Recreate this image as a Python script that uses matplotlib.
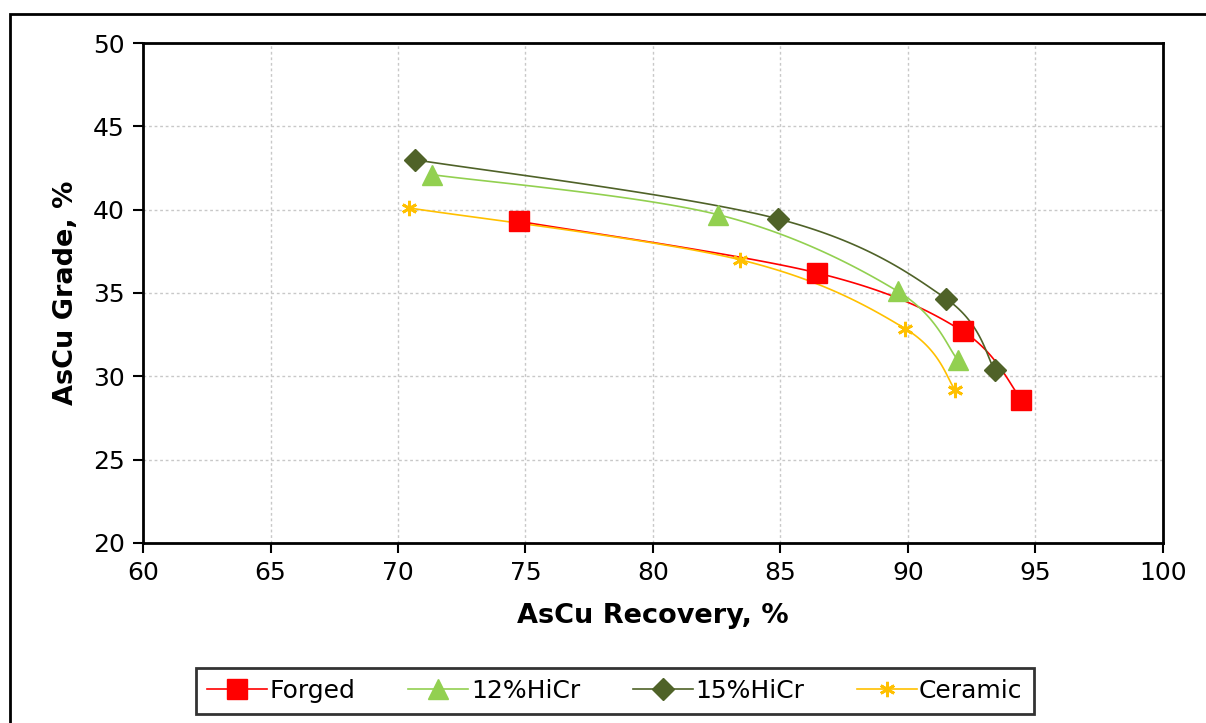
import numpy as np
import matplotlib
matplotlib.use("Agg")
import matplotlib.pyplot as plt
from matplotlib.lines import Line2D
from matplotlib.patches import Rectangle

# AsCu recovery (%) and grade (%) for each media type
forged_rec = [74.75, 86.45, 92.15, 94.45]
forged_grade = [39.3, 36.2, 32.7, 28.6]

hicr12_rec = [71.35, 82.55, 89.6, 91.95]
hicr12_grade = [42.1, 39.7, 35.1, 31.0]

hicr15_rec = [70.65, 84.9, 91.5, 93.4]
hicr15_grade = [43.0, 39.45, 34.65, 30.4]

ceramic_rec = [70.45, 83.4, 89.9, 91.85]
ceramic_grade = [40.1, 37.0, 32.85, 29.2]

series_names = ["Forged", "12%HiCr", "15%HiCr", "Ceramic"]
colors = ["#FF0000", "#92D050", "#4F6228", "#FFC000"]

plt.rcParams["font.family"] = ["DejaVu Sans"]

fig = plt.figure(figsize=(12.06, 7.23), dpi=100)
ax = fig.add_axes([0.1186, 0.249, 0.8457, 0.6915])

ax.set_xlim(60, 100)
ax.set_ylim(20, 50)
ax.set_xticks(np.arange(60, 101, 5))
ax.set_yticks(np.arange(20, 51, 5))
ax.grid(True, color="#C8C8C8", linestyle=(0, (2, 2)), linewidth=1.0)
ax.set_axisbelow(True)
for sp in ax.spines.values():
    sp.set_linewidth(2.0)
    sp.set_color("black")
ax.tick_params(direction="out", length=7, width=1.5, labelsize=18, pad=6)

ax.set_xlabel("AsCu Recovery, %", fontsize=19.5, fontweight="bold", labelpad=13)
ax.set_ylabel("AsCu Grade, %", fontsize=19.5, fontweight="bold", labelpad=10)


def smooth_curve(xs, ys, n=40):
    """Bezier smoothing through the points, computed in display space."""
    pts = ax.transData.transform(np.column_stack([xs, ys]))
    ext = np.vstack([pts[0], pts, pts[-1]])
    out = []
    for i in range(1, len(ext) - 2):
        p0, p3 = ext[i], ext[i + 1]
        c1 = p0 + (ext[i + 1] - ext[i - 1]) / 6.0
        c2 = p3 - (ext[i + 2] - ext[i]) / 6.0
        t = np.linspace(0, 1, n)[:, None]
        seg = ((1 - t) ** 3) * p0 + 3 * ((1 - t) ** 2) * t * c1 \
            + 3 * (1 - t) * t ** 2 * c2 + t ** 3 * p3
        out.append(seg if i == 1 else seg[1:])
    curve = np.vstack(out)
    return ax.transData.inverted().transform(curve)


series = [
    (forged_rec, forged_grade, dict(marker="s", markersize=14)),
    (hicr12_rec, hicr12_grade, dict(marker="^", markersize=15)),
    (hicr15_rec, hicr15_grade, dict(marker="D", markersize=11)),
    (ceramic_rec, ceramic_grade, dict(marker=(6, 2, 0), markersize=11,
                                      markeredgewidth=2)),
]

handles = []
for (xs, ys, mk), name, col in zip(series, series_names, colors):
    curve = smooth_curve(xs, ys)
    ax.plot(curve[:, 0], curve[:, 1], color=col, linewidth=1.2, zorder=3)
    ax.plot(xs, ys, linestyle="none", color=col, markerfacecolor=col,
            markeredgecolor=col, zorder=4, **mk)
    handles.append(Line2D([], [], color=col, linewidth=1.2,
                          markerfacecolor=col, markeredgecolor=col, **mk))

leg = fig.legend(handles, series_names, loc="center",
                 bbox_to_anchor=(0.51, 0.044), bbox_transform=fig.transFigure,
                 ncol=4, fontsize=18, frameon=True, fancybox=False,
                 edgecolor="black", handlelength=2.4, handletextpad=0.1,
                 columnspacing=2.1, borderpad=0.45, borderaxespad=0.0)
leg.get_frame().set_linewidth(2.0)

# outer border of the chart area
fig.patches.append(Rectangle((10 / 1206, -0.05), 1.2, 1 - 14 / 723 + 0.05,
                             transform=fig.transFigure, fill=False,
                             edgecolor="black", linewidth=2.0))

fig.savefig("out.png", dpi=100)
